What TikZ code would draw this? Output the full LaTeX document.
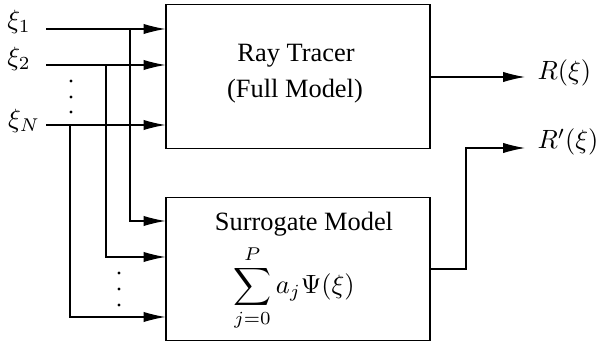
\documentclass[tikz,border=0pt]{standalone}
\usepackage[no-math]{fontspec}
\setmainfont{Liberation Serif}
\usetikzlibrary{arrows.meta}
\begin{document}
\begin{tikzpicture}[x=0.3788pt,y=-0.3788pt,
  box/.style={draw, minimum width=100pt, minimum height=54.4pt, inner sep=0pt},
  arr/.style={-{Latex[length=8.3pt,width=3.9pt]}},
  dotm/.style={circle, fill, inner sep=0pt, minimum size=1.15pt},
  lbl/.style={inner sep=0pt}]
\useasboundingbox (0,0) rectangle (597,347);
% boxes
\node[box] (rt) at (298,76.5) {};
\node[box] (sm) at (298,269) {};
\node[lbl] (t1) at (296,56) {Ray Tracer};
\node[lbl] (t2) at (295,91) {(Full Model)};
\node[lbl] (t3) at (304,224) {Surrogate Model};
\node[lbl] (t4) at (294,288) {$\displaystyle\sum_{j=0}^{P} a_j\Psi(\xi)$};
% inputs
\coordinate (x1) at (46,29);
\coordinate (x2) at (46,65);
\coordinate (xN) at (46,125);
\node[lbl] (l1) at (19,22) {$\xi_1$};
\node[lbl] (l2) at (19,59) {$\xi_2$};
\node[lbl] (lN) at (24,121) {$\xi_N$};
\draw[arr] (x1) -- (rt.west |- x1);
\draw[arr] (x2) -- (rt.west |- x2);
\draw[arr] (xN) -- (rt.west |- xN);
% branches
\coordinate (b1) at (130,29);
\coordinate (b2) at (106,65);
\coordinate (bN) at (70,125);
\coordinate (s1) at (166,221);
\coordinate (s2) at (166,257);
\coordinate (sN) at (166,317);
\draw[arr] (b1) |- (sm.west |- s1);
\draw[arr] (b2) |- (sm.west |- s2);
\draw[arr] (bN) |- (sm.west |- sN);
% dots
\node[dotm] (d1) at (71,81) {};
\node[dotm] (d2) at (71,97) {};
\node[dotm] (d3) at (71,112) {};
\node[dotm] (d4) at (119,273) {};
\node[dotm] (d5) at (119,289) {};
\node[dotm] (d6) at (119,305) {};
% outputs
\coordinate (o1) at (525,77);
\coordinate (o2) at (525,148);
\coordinate (k1) at (466,269);
\draw[arr] (rt.east |- o1) -- (o1);
\draw[arr] (sm.east |- k1) -- (k1) |- (o2);
\node[lbl, anchor=west] (r1) at (537,73) {$R(\xi)$};
\node[lbl, anchor=west] (r2) at (537,142) {$R'(\xi)$};
\end{tikzpicture}
\end{document}
